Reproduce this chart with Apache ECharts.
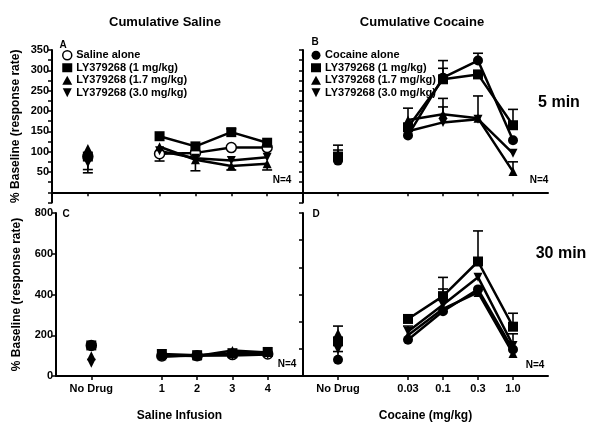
<html lang="en">
  <head>
    <meta charset="UTF-8" />
    <title>Cumulative Saline / Cocaine</title>
    <style>
      body { margin: 0; background: #fff; }
    </style>
  </head>
  <body>
    <div id="main" style="width: 600px; height: 425px"></div>

    <script src="https://cdn.jsdelivr.net/npm/echarts@6/dist/echarts.min.js"></script>
    <script>
      // tick labels (blank slots keep the gap between "No Drug" and the doses)
      let salineTicks = ['', 'No Drug', '', '1', '2', '3', '4', '']
      let cocaineTicks = ['', 'No Drug', '', '0.03', '0.1', '0.3', '1.0', '']
      let slots = [1, 3, 4, 5, 6]

      let lyNames = ['LY379268 (1 mg/kg)', 'LY379268 (1.7 mg/kg)', 'LY379268 (3.0 mg/kg)']

      // A: saline, 5 min   (values: No Drug, 1, 2, 3, 4)
      let salineAlone5 = [88, 95, 97, 110, 110]
      let ly1Saline5 = [88, 138, 113, 148, 122]
      let ly17Saline5 = [108, 112, 80, 65, 70]
      let ly30Saline5 = [72, 102, 84, 78, 86]
      let salineAlone5Err = [-40, -18, 0, 0, 0]
      let ly1Saline5Err = [0, 0, 0, 8, 0]
      let ly17Saline5Err = [0, 0, -27, -10, -15]
      let ly30Saline5Err = [-16, 0, 0, 0, 0]

      // B: cocaine, 5 min   (values: No Drug, 0.03, 0.1, 0.3, 1.0)
      let cocaineAlone5 = [78, 140, 282, 324, 128]
      let ly1Cocaine5 = [88, 160, 278, 290, 165]
      let ly17Cocaine5 = [95, 178, 192, 182, 51]
      let ly30Cocaine5 = [85, 150, 172, 180, 96]
      let cocaineAlone5Err = [0, 0, 23, 18, 0]
      let ly1Cocaine5Err = [16, 0, 46, 0, 39]
      let ly17Cocaine5Err = [21, 29, 39, 0, 24]
      let ly30Cocaine5Err = [0, 0, 38, 57, 0]

      // C: saline, 30 min
      let salineAlone30 = [150, 98, 100, 105, 108]
      let ly1Saline30 = [150, 108, 102, 112, 118]
      let ly17Saline30 = [100, 100, 98, 125, 115]
      let ly30Saline30 = [62, 95, 102, 100, 105]

      // D: cocaine, 30 min
      let cocaineAlone30 = [80, 178, 318, 425, 130]
      let ly1Cocaine30 = [170, 280, 392, 562, 242]
      let ly17Cocaine30 = [210, 200, 330, 410, 110]
      let ly30Cocaine30 = [130, 218, 350, 485, 150]
      let cocaineAlone30Err = [40, 0, 0, 0, 0]
      let ly1Cocaine30Err = [0, 0, 92, 150, 66]
      let ly17Cocaine30Err = [35, 0, 0, 0, 0]
      let ly30Cocaine30Err = [0, 27, 77, 0, 57]

      let font = 'Liberation Sans, Arial, sans-serif'
      let downTri = 'path://M0,0 L10,0 L5,10 Z'

      function spread(vals) {
        let out = [null, null, null, null, null, null, null, null]
        vals.forEach((v, j) => (out[slots[j]] = v))
        return out
      }

      let panels = [
        { control: 'Saline alone', open: true, vals: [salineAlone5, ly1Saline5, ly17Saline5, ly30Saline5],
          errs: [salineAlone5Err, ly1Saline5Err, ly17Saline5Err, ly30Saline5Err] },
        { control: 'Cocaine alone', open: false, vals: [cocaineAlone5, ly1Cocaine5, ly17Cocaine5, ly30Cocaine5],
          errs: [cocaineAlone5Err, ly1Cocaine5Err, ly17Cocaine5Err, ly30Cocaine5Err] },
        { control: 'Saline alone', open: true, vals: [salineAlone30, ly1Saline30, ly17Saline30, ly30Saline30],
          errs: [] },
        { control: 'Cocaine alone', open: false, vals: [cocaineAlone30, ly1Cocaine30, ly17Cocaine30, ly30Cocaine30],
          errs: [cocaineAlone30Err, ly1Cocaine30Err, ly17Cocaine30Err, ly30Cocaine30Err] }
      ]

      let symbols = ['circle', 'rect', 'triangle', downTri]
      let series = []
      panels.forEach((p, i) => {
        p.vals.forEach((vals, k) => {
          let openCircle = k === 0 && p.open
          series.push({
            type: 'line',
            name: k === 0 ? p.control : lyNames[k - 1],
            xAxisIndex: i,
            yAxisIndex: i,
            data: spread(vals),
            symbol: symbols[k],
            symbolSize: k === 0 ? 10 : k === 1 ? 10 : 9,
            showAllSymbol: true,
            lineStyle: { color: '#000', width: 2.5 },
            itemStyle: openCircle
              ? { color: '#fff', borderColor: '#000', borderWidth: 1.5 }
              : { color: '#000' },
            z: 3
          })
        })
        let bars = []
        p.errs.forEach((err, k) => {
          err.forEach((e, j) => {
            if (e) bars.push([slots[j], p.vals[k][j], p.vals[k][j] + e])
          })
        })
        if (bars.length) {
          series.push({
            type: 'custom',
            xAxisIndex: i,
            yAxisIndex: i,
            data: bars,
            encode: { x: 0, y: [1, 2] },
            z: 2,
            renderItem: function (params, api) {
              let p0 = api.coord([api.value(0), api.value(1)])
              let p1 = api.coord([api.value(0), api.value(2)])
              let st = { stroke: '#000', lineWidth: 1.6 }
              return {
                type: 'group',
                children: [
                  { type: 'line', shape: { x1: p0[0], y1: p0[1], x2: p1[0], y2: p1[1] }, style: st },
                  { type: 'line', shape: { x1: p1[0] - 5, y1: p1[1], x2: p1[0] + 5, y2: p1[1] }, style: st }
                ]
              }
            }
          })
        }
      })

      let axisLine = { lineStyle: { color: '#000', width: 2 } }
      let labelStyle = { color: '#000', fontWeight: 'bold', fontSize: 11, fontFamily: font }
      let showSlot = (i, v) => v !== ''

      function xAxis(grid, ticks, bottom, name) {
        return {
          type: 'category',
          gridIndex: grid,
          data: ticks,
          boundaryGap: false,
          axisLine: axisLine,
          axisTick: { interval: showSlot, length: 4, lineStyle: { color: '#000', width: 1.5 } },
          axisLabel: Object.assign({ show: bottom, interval: showSlot, margin: 7 }, labelStyle),
          splitLine: { show: false },
          name: name,
          nameLocation: 'middle',
          nameGap: 34,
          nameTextStyle: { color: '#000', fontWeight: 'bold', fontSize: 12, fontFamily: font }
        }
      }

      function yAxis(grid, opts, showLabels, name) {
        return Object.assign(
          {
            type: 'value',
            gridIndex: grid,
            axisLine: { show: true, onZero: false, lineStyle: { color: '#000', width: 2 } },
            axisTick: { show: true, length: 4, lineStyle: { color: '#000', width: 1.5 } },
            splitLine: { show: false },
            axisLabel: Object.assign({ show: showLabels, margin: 3 }, labelStyle),
            name: name,
            nameLocation: 'middle',
            nameGap: 30,
            nameTextStyle: { color: '#000', fontWeight: 'bold', fontSize: 12, fontFamily: font }
          },
          opts
        )
      }

      let topY = { min: -25, max: 350, interval: 25 }
      let topLabel = (v) => (v >= 50 && v % 50 === 0 ? v : '')

      function legend(control, open, left) {
        return {
          orient: 'vertical',
          left: left,
          top: 49,
          padding: 0,
          itemGap: 0,
          itemWidth: 10,
          itemHeight: 9,
          textStyle: {
            color: '#000', fontWeight: 'bold', fontSize: 11, fontFamily: font,
            lineHeight: 12.5, padding: [0, 0, 0, -1]
          },
          data: [
            open
              ? { name: control, icon: 'circle', itemStyle: { color: '#fff', borderColor: '#000', borderWidth: 1.5 } }
              : { name: control, icon: 'circle' },
            { name: lyNames[0], icon: 'rect' },
            { name: lyNames[1], icon: 'triangle' },
            { name: lyNames[2], icon: downTri }
          ]
        }
      }

      function text(str, x, y, size) {
        return {
          type: 'text',
          x: x,
          y: y,
          style: { text: str, fill: '#000', font: 'bold ' + size + 'px ' + font, align: 'center', verticalAlign: 'middle' }
        }
      }

      let myChart = echarts.init(document.getElementById('main'))
      let option = {
        animation: false,
        backgroundColor: '#fff',
        grid: [
          { left: 52, top: 50, width: 251, height: 152.5 },
          { left: 303, top: 50, width: 245, height: 152.5 },
          { left: 56, top: 213, width: 247, height: 163 },
          { left: 303, top: 213, width: 245, height: 163 }
        ],
        xAxis: [
          xAxis(0, salineTicks, false, ''),
          xAxis(1, cocaineTicks, false, ''),
          xAxis(2, salineTicks, true, 'Saline Infusion'),
          xAxis(3, cocaineTicks, true, 'Cocaine (mg/kg)')
        ],
        yAxis: [
          yAxis(0, Object.assign({}, topY), true, '% Baseline (response rate)'),
          yAxis(1, Object.assign({}, topY), false, ''),
          yAxis(2, { min: 0, max: 800, interval: 200, nameGap: 33 }, true, '% Baseline (response rate)'),
          yAxis(3, { min: 0, max: 800, interval: 800 / 6 }, false, '')
        ],
        legend: [legend('Saline alone', true, 62), legend('Cocaine alone', false, 311)],
        graphic: [
          text('Cumulative Saline', 165, 22, 13),
          text('Cumulative Cocaine', 422, 22, 13),
          text('5 min', 559, 103, 16),
          text('30 min', 561, 254, 16),
          text('A', 63, 45, 10),
          text('B', 315, 42, 10),
          text('C', 66, 214, 10),
          text('D', 316, 214, 10),
          text('N=4', 282, 180, 10),
          text('N=4', 539, 180, 10),
          text('N=4', 287, 364, 10),
          text('N=4', 535, 365, 10)
        ],
        series: series
      }
      option.yAxis[0].axisLabel.formatter = topLabel
      myChart.setOption(option)
    </script>
  </body>
</html>
